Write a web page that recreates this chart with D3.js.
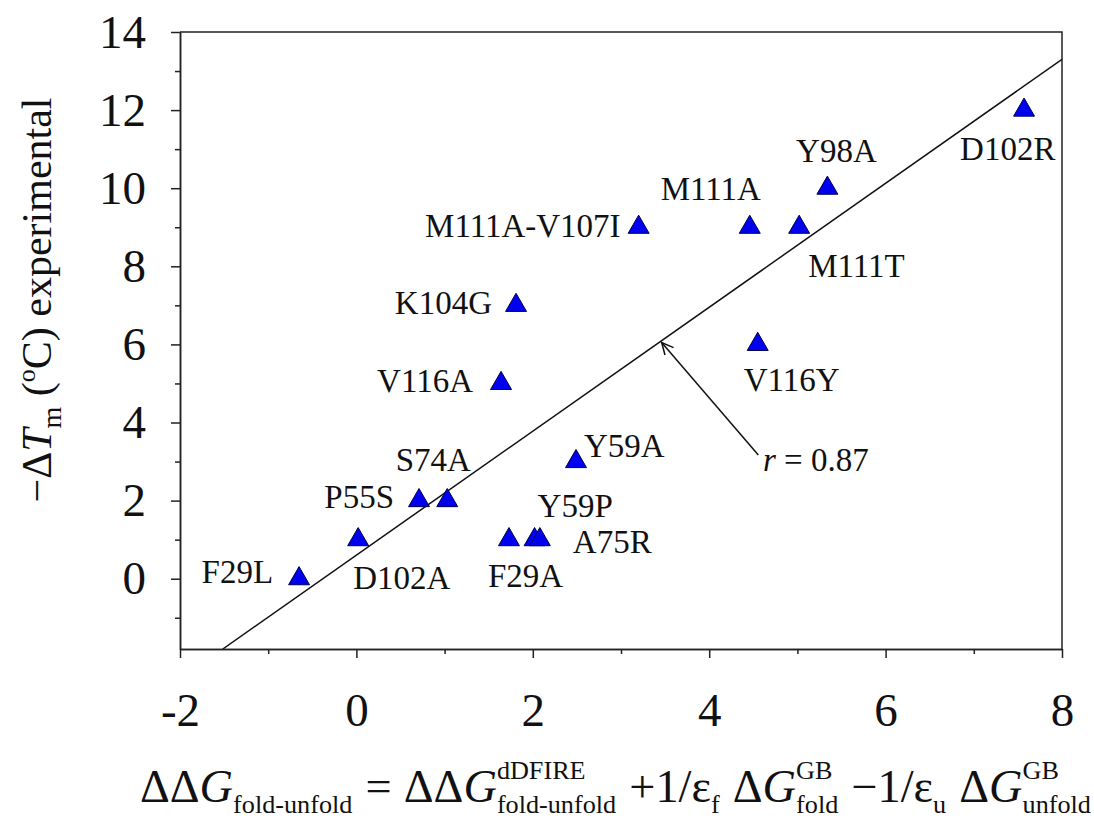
<!DOCTYPE html>
<html>
<head>
<meta charset="utf-8">
<script src="https://cdn.jsdelivr.net/npm/d3@7"></script>
<style>
  html, body { margin: 0; padding: 0; background: #fff; }
  svg { display: block; font-family: "Liberation Serif", "Times New Roman", serif; }
</style>
</head>
<body>
<svg id="chart" width="1094" height="821"></svg>
<script>
// ---------------- data ----------------
const mutants = ["F29L","D102A","P55S","S74A","F29A","Y59P","A75R","Y59A","V116A","K104G","M111A-V107I","M111A","M111T","Y98A","V116Y","D102R"];
const ddG     = [-0.65, 0.02, 0.71, 1.03, 1.73, 2.02, 2.08, 2.49, 1.64, 1.81, 3.20, 4.46, 5.02, 5.34, 4.55, 7.57];
const dTm     = [0, 1, 2, 2, 1, 1, 1, 3, 5, 7, 9, 9, 9, 10, 6, 12];

const xTickValues = [-2, 0, 2, 4, 6, 8];
const xTickLabels = ["-2", "0", "2", "4", "6", "8"];
const xMinorTicks = [-1, 1, 3, 5, 7];
const yTickValues = [0, 2, 4, 6, 8, 10, 12, 14];
const yTickLabels = ["0", "2", "4", "6", "8", "10", "12", "14"];
const yMinorTicks = [-1, 1, 3, 5, 7, 9, 11, 13];

const fitSlope = 1.587;
const fitIntercept = 0.604;
const rLabel = "0.87";
const arrowFrom = [4.557, 3.17];
const arrowTo = [3.461, 6.05];
const rLabelPos = [4.61, 2.75];

// ---------------- layout (label placement, not data) ----------------
const labelPlace = {
  "F29L": ["end", -26, 4], "D102A": ["start", -5, 49], "P55S": ["end", -25, 7],
  "S74A": ["middle", -14, -30], "F29A": ["start", -21, 47], "Y59P": ["start", 3, -23],
  "A75R": ["start", 33, 13], "Y59A": ["start", 8, -5], "V116A": ["end", -28, 9],
  "K104G": ["end", -24, 9], "M111A-V107I": ["end", -18, 10], "M111A": ["middle", -39, -27],
  "M111T": ["start", 9, 50], "Y98A": ["middle", 9, -26], "V116Y": ["start", -14, 47],
  "D102R": ["start", -64, 50]
};

const svg = d3.select("#chart");
const L = 180, R = 1062, T = 32, B = 649;
const x = d3.scaleLinear().domain([-2, 8]).range([L, R]);
const y = d3.scaleLinear().domain([-1.8, 14]).range([B, T]);
const ink = "#222";

// frame (top & right)
svg.append("path")
  .attr("d", `M${L},${T}H${R}V${B}`)
  .attr("fill", "none").attr("stroke", ink).attr("stroke-width", 1.5);

// axes
function styleAxis(g) {
  g.select(".domain").attr("stroke", ink).attr("stroke-width", 1.5);
  g.selectAll(".tick line").attr("stroke", ink).attr("stroke-width", 1.5);
  g.selectAll(".tick text").attr("fill", "#111").style("font-size", "47px")
   .style("font-family", "'Liberation Serif', 'Times New Roman', serif");
}
const xAxis = svg.append("g").attr("transform", `translate(0,${B})`)
  .call(d3.axisBottom(x).tickValues(xTickValues).tickSize(9).tickSizeOuter(0).tickPadding(35)
    .tickFormat((d, i) => xTickLabels[i]));
styleAxis(xAxis);
const xMinor = svg.append("g").attr("transform", `translate(0,${B})`)
  .call(d3.axisBottom(x).tickValues(xMinorTicks).tickSize(5).tickSizeOuter(0).tickFormat(""));
styleAxis(xMinor);

const yAxis = svg.append("g").attr("transform", `translate(${L},0)`)
  .call(d3.axisLeft(y).tickValues(yTickValues).tickSize(9).tickSizeOuter(0).tickPadding(25)
    .tickFormat((d, i) => yTickLabels[i]));
styleAxis(yAxis);
const yMinor = svg.append("g").attr("transform", `translate(${L},0)`)
  .call(d3.axisLeft(y).tickValues(yMinorTicks).tickSize(5).tickSizeOuter(0).tickFormat(""));
styleAxis(yMinor);

// regression line, clipped to plot area
svg.append("clipPath").attr("id", "plotclip").append("rect")
  .attr("x", L).attr("y", T).attr("width", R - L).attr("height", B - T);
const xStart = (y.domain()[0] - fitIntercept) / fitSlope;
const xEnd = 8;
svg.append("line")
  .attr("clip-path", "url(#plotclip)")
  .attr("x1", x(xStart)).attr("y1", y(fitIntercept + fitSlope * xStart))
  .attr("x2", x(xEnd)).attr("y2", y(fitIntercept + fitSlope * xEnd))
  .attr("stroke", "#111").attr("stroke-width", 1.5);

// arrow annotation
const ax1 = x(arrowFrom[0]), ay1 = y(arrowFrom[1]), ax2 = x(arrowTo[0]), ay2 = y(arrowTo[1]);
svg.append("line").attr("x1", ax1).attr("y1", ay1).attr("x2", ax2).attr("y2", ay2)
  .attr("stroke", "#111").attr("stroke-width", 1.5);
const ang = Math.atan2(ay1 - ay2, ax1 - ax2);
const hl = 13, ha = 0.45;
svg.append("path")
  .attr("d", `M${ax2 + hl * Math.cos(ang - ha)},${ay2 + hl * Math.sin(ang - ha)}L${ax2},${ay2}L${ax2 + hl * Math.cos(ang + ha)},${ay2 + hl * Math.sin(ang + ha)}`)
  .attr("fill", "none").attr("stroke", "#111").attr("stroke-width", 1.5);
const rt = svg.append("text").attr("x", x(rLabelPos[0])).attr("y", y(rLabelPos[1]))
  .style("font-size", "33px").attr("fill", "#111");
rt.append("tspan").style("font-style", "italic").text("r");
rt.append("tspan").text(" = " + rLabel);

// points
const pts = mutants.map((m, i) => ({ m, gx: ddG[i], ty: dTm[i] }));
const sym = d3.symbol().type(d3.symbolTriangle).size(190);
svg.append("g").selectAll("path").data(pts).join("path")
  .attr("d", sym)
  .attr("transform", d => `translate(${x(d.gx)},${y(d.ty)})`)
  .attr("fill", "#0000ee").attr("stroke", "#000050").attr("stroke-width", 1);

svg.append("g").selectAll("text").data(pts).join("text")
  .attr("x", d => x(d.gx) + labelPlace[d.m][1])
  .attr("y", d => y(d.ty) + labelPlace[d.m][2])
  .attr("text-anchor", d => labelPlace[d.m][0])
  .style("font-size", "33px").attr("fill", "#111")
  .text(d => d.m);

// y axis title
const yt = svg.append("text").attr("transform", "translate(51,300) rotate(-90)")
  .attr("text-anchor", "middle").style("font-size", "42px").attr("fill", "#111");
yt.append("tspan").text("\u2212\u0394");
yt.append("tspan").style("font-style", "italic").text("T");
yt.append("tspan").style("font-size", "28px").attr("dy", 10).text("m");
yt.append("tspan").attr("dy", -10).text(" (");
yt.append("tspan").style("font-size", "26px").attr("dy", -16).text("o");
yt.append("tspan").attr("dy", 16).text("C) experimental");

// x axis title: formula laid out piece by piece
const fg = svg.append("g");
const MAIN = 46, SMALL = 26, SUB = 11, SUP = -23, GAP = 12;
const formula = [
  { t: "\u0394\u0394" }, { t: "G", it: true }, { sub: "fold-unfold" }, { gap: GAP },
  { t: "=" }, { gap: GAP },
  { t: "\u0394\u0394" }, { t: "G", it: true }, { sup: "dDFIRE", sub: "fold-unfold" }, { gap: GAP },
  { t: "+1/\u03B5" }, { sub: "f" }, { gap: GAP },
  { t: "\u0394" }, { t: "G", it: true }, { sup: "GB", sub: "fold" }, { gap: GAP },
  { t: "\u22121/\u03B5" }, { sub: "u" }, { gap: GAP },
  { t: "\u0394" }, { t: "G", it: true }, { sup: "GB", sub: "unfold" }
];
let cx = 0;
function piece(txt, size, shift, it) {
  const el = fg.append("text").attr("x", cx).attr("y", shift)
    .style("font-size", size + "px").attr("fill", "#111").text(txt);
  if (it) el.style("font-style", "italic");
  return el.node().getComputedTextLength();
}
formula.forEach(p => {
  if (p.gap) { cx += p.gap; return; }
  if (p.t) { cx += piece(p.t, MAIN, 0, p.it); return; }
  let w = 0;
  if (p.sup) w = Math.max(w, piece(p.sup, SMALL, SUP, false));
  if (p.sub) w = Math.max(w, piece(p.sub, SMALL, SUB, false));
  cx += w + 1;
});
const targetL = 140, targetR = 1092;
fg.attr("transform", `translate(${targetL},802) scale(${(targetR - targetL) / cx},1)`);
</script>
</body>
</html>
